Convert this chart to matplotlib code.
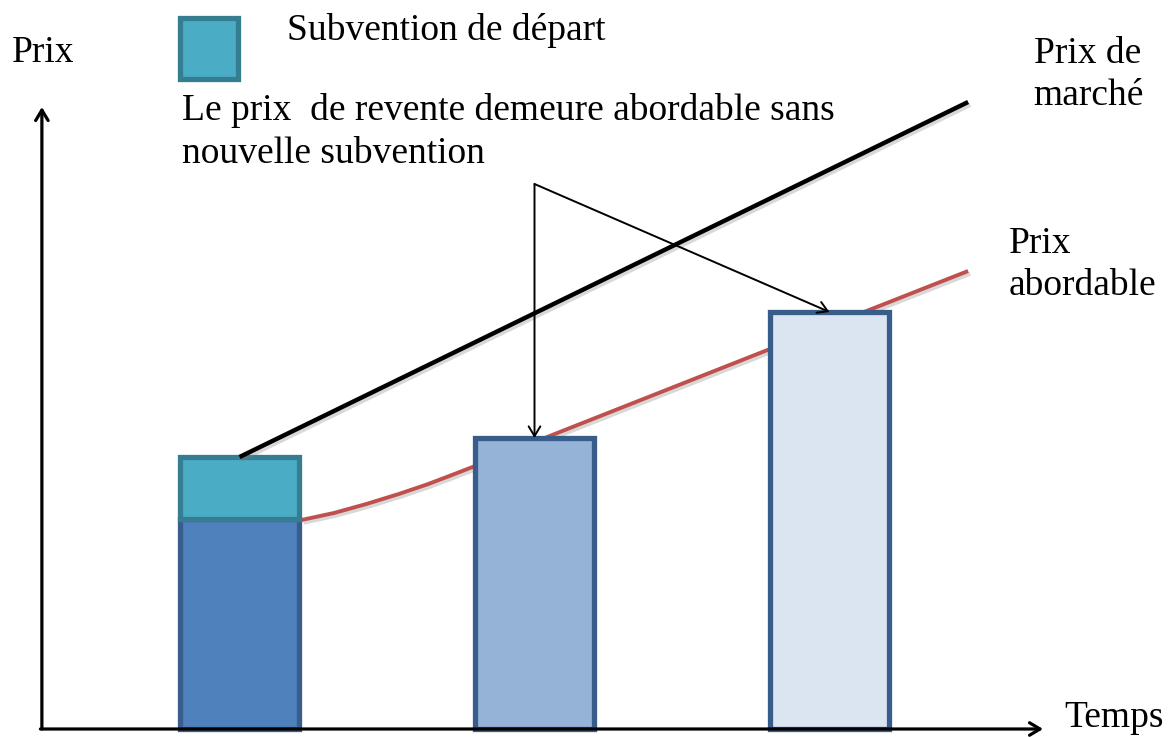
import matplotlib
matplotlib.use("Agg")
import matplotlib.pyplot as plt
import matplotlib.patches as mpatches
import matplotlib.patheffects as pe

# Data (time in periods, price in arbitrary units)
periods = [1, 2, 3]
base_price = [2.10, 2.91, 4.17]          # affordable resale price per period
start_subsidy = [0.62, 0.0, 0.0]         # initial subsidy on top of bar 1
bar_fills = ["#4F81BD", "#95B3D7", "#DBE5F1"]

market_t = [1.0, 3.47]
market_p = [2.72, 6.27]

afford_t = [1.21, 1.32, 1.43, 1.54, 1.64, 1.72, 1.79, 1.90, 2.06, 2.79, 3.47]
afford_p = [2.09, 2.16, 2.25, 2.35, 2.45, 2.54, 2.62, 2.75, 2.94, 3.79, 4.58]

note_origin = (2.0, 5.45)

W, H = 1169, 737
fig = plt.figure(figsize=(W / 100, H / 100), dpi=100)
ax = fig.add_axes([0, 0, 1, 1])
ax.set_xlim(0.188, 4.151)
ax.set_ylim(-0.08, 7.29)
ax.axis('off')

FONT = "Liberation Serif"
FS = 27


def pix(x, y):
    # pixel position (from top-left) -> axes fraction
    return (x / W, 1 - y / H)


shadow = [pe.SimpleLineShadow(offset=(1.5, -2), shadow_color="gray", alpha=0.3), pe.Normal()]

# affordable price curve (behind bars)
ax.plot(afford_t, afford_p, color="#C0504D", lw=2.8, zorder=1,
        solid_capstyle="butt", solid_joinstyle="round", path_effects=shadow)

# bars
ax.bar(periods, base_price, width=0.405, color=bar_fills, edgecolor="#385D8A",
       linewidth=3.8, zorder=2)
ax.bar(periods[0], start_subsidy[0], bottom=base_price[0], width=0.405,
       color="#4BACC6", edgecolor="#357D91", linewidth=3.8, zorder=3)

# market price line
ax.plot(market_t, market_p, color="black", lw=3.2, zorder=4,
        solid_capstyle="butt", path_effects=shadow)

# axes with arrow heads
x0 = 0.33
axis_style = dict(arrowstyle="->,head_length=0.5,head_width=0.3", lw=2.3,
                  color="black", mutation_scale=15, shrinkA=0, shrinkB=0)
ax.annotate("", xy=(x0, 6.22), xytext=(x0, 0), arrowprops=axis_style, zorder=5)
ax.annotate("", xy=(3.724, 0), xytext=(x0 - 0.005, 0), arrowprops=axis_style, zorder=5)

# annotation arrows to bar tops
note_style = dict(arrowstyle="->,head_length=0.5,head_width=0.3", lw=1.4,
                  color="black", mutation_scale=14, shrinkA=0, shrinkB=0)
for t, p in zip(periods[1:], base_price[1:]):
    ax.annotate("", xy=(t, p), xytext=note_origin, arrowprops=note_style, zorder=6)

# legend square
sq_x, sq_y = pix(180, 79)
ax.add_patch(mpatches.Rectangle((sq_x, sq_y), 58 / W, 61 / H, transform=ax.transAxes,
                                facecolor="#4BACC6", edgecolor="#357D91",
                                linewidth=3.8, zorder=5))


# texts
def txt(x, y, s, ha="left"):
    ax.text(*pix(x, y), s, transform=ax.transAxes, ha=ha, va="baseline",
            fontsize=FS, family=FONT, color="black")


txt(12, 62, "Prix")
txt(287, 40, "Subvention de départ")
txt(182, 120, "Le prix  de revente demeure abordable sans")
txt(182, 163, "nouvelle subvention")
txt(1088, 63, "Prix de", ha="center")
txt(1088, 105, "marché", ha="center")
txt(1009, 253, "Prix")
txt(1009, 295, "abordable")
txt(1064, 727, "Temps")

fig.savefig("out.png", dpi=100)
